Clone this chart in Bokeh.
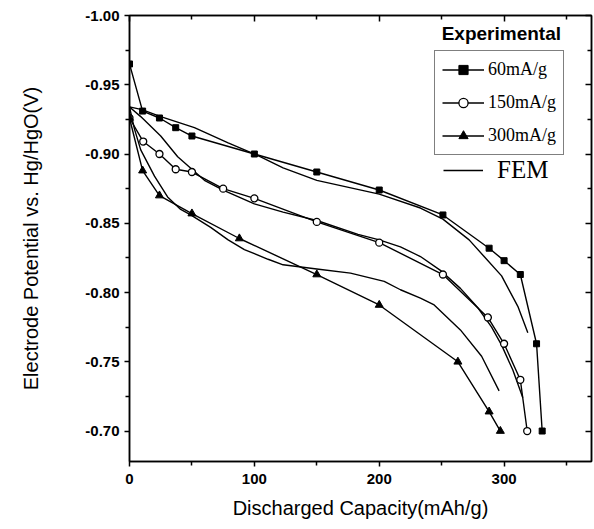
from bokeh.plotting import figure
from bokeh.models import (Range1d, LinearAxis, Legend, LegendItem, Label,
                          FixedTicker, NumeralTickFormatter, CustomJSTickFormatter)
from bokeh.embed import file_html
from bokeh.resources import INLINE

# Experimental data (discharged capacity mAh/g, potential V vs Hg/HgO)
cap_60 = [0, 10.5, 24, 37, 50, 100, 150, 200, 251, 288, 300, 313, 326, 330.5]
pot_60 = [-0.965, -0.931, -0.926, -0.919, -0.913, -0.900, -0.887, -0.874,
          -0.856, -0.832, -0.823, -0.813, -0.763, -0.700]

cap_150 = [0, 11, 24, 37, 50, 75, 100, 150, 200, 251, 287, 300, 313, 318.5]
pot_150 = [-0.926, -0.909, -0.900, -0.889, -0.887, -0.875, -0.868, -0.851,
           -0.836, -0.813, -0.782, -0.763, -0.737, -0.700]

cap_300 = [0, 10.5, 24, 50, 88, 150, 200, 263, 288, 297]
pot_300 = [-0.926, -0.888, -0.870, -0.857, -0.839, -0.813, -0.791, -0.750,
           -0.714, -0.700]

# FEM simulations
fem60_cap = [0, 10, 25, 52, 79, 105, 123, 150, 200, 233, 251, 272, 284, 298, 311, 319]
fem60_pot = [-0.934, -0.932, -0.927, -0.919, -0.908, -0.898, -0.890, -0.881,
             -0.871, -0.861, -0.853, -0.838, -0.826, -0.812, -0.790, -0.771]

fem150_cap = [0, 9, 25, 38.6, 60, 75, 100, 123, 150, 183, 200, 217, 233, 249,
              265, 279, 290, 298, 307, 315]
fem150_pot = [-0.934, -0.927, -0.913, -0.898, -0.881, -0.874, -0.864, -0.858,
              -0.852, -0.842, -0.838, -0.833, -0.826, -0.816, -0.803, -0.789,
              -0.775, -0.762, -0.744, -0.724]

fem300_cap = [0, 4, 9, 20, 30.5, 41, 49, 65, 79, 92, 111, 123, 150, 177, 204,
              217, 233, 244, 265, 282, 296]
fem300_pot = [-0.934, -0.918, -0.903, -0.884, -0.869, -0.860, -0.856, -0.847,
              -0.838, -0.831, -0.824, -0.820, -0.817, -0.814, -0.808, -0.802,
              -0.796, -0.791, -0.773, -0.754, -0.729]

x_major = [0, 100, 200, 300]
x_minor = [50, 150, 250, 350]
y_major = [-1.00, -0.95, -0.90, -0.85, -0.80, -0.75, -0.70]
y_minor = [-0.975, -0.925, -0.875, -0.825, -0.775, -0.725]

legend_labels = ["60mA/g", "150mA/g", "300mA/g"]

SANS = "Liberation Sans"
SERIF = "Liberation Serif"

p = figure(width=594, height=527, output_backend="svg", toolbar_location=None,
           x_range=Range1d(0, 370), y_range=Range1d(-0.678, -1.0),
           min_border_left=129, min_border_top=15, min_border_bottom=66,
           min_border_right=3)
p.xgrid.visible = False
p.ygrid.visible = False
p.outline_line_color = "black"
p.outline_line_width = 1.5
p.background_fill_color = "white"
p.border_fill_color = "white"

xt = FixedTicker(ticks=x_major, minor_ticks=x_minor)
yt = FixedTicker(ticks=y_major, minor_ticks=y_minor)

for ax in p.xaxis:
    ax.ticker = xt
for ax in p.yaxis:
    ax.ticker = yt
    ax.formatter = NumeralTickFormatter(format="0.00")

for ax in list(p.xaxis) + list(p.yaxis):
    ax.axis_line_width = 1.5
    ax.major_tick_line_width = 1.5
    ax.minor_tick_line_width = 1.5
    ax.major_tick_out = 5
    ax.major_tick_in = 0
    ax.minor_tick_out = 4
    ax.minor_tick_in = 0
    ax.major_label_text_font = SANS
    ax.major_label_text_font_size = "15px"
    ax.major_label_text_font_style = "bold"
    ax.major_label_text_color = "black"
    ax.axis_label_text_font = SANS
    ax.axis_label_text_font_size = "20px"
    ax.axis_label_text_font_style = "normal"
    ax.axis_label_text_color = "black"

p.xaxis.axis_label = "Discharged Capacity(mAh/g)"
p.yaxis.axis_label = "Electrode Potential vs. Hg/HgO(V)"
p.xaxis.major_label_standoff = 7
p.xaxis.axis_label_standoff = 10
p.yaxis.major_label_standoff = 5
p.yaxis.axis_label_standoff = 40

blank = CustomJSTickFormatter(code="return ''")
top = LinearAxis(ticker=xt, formatter=blank, major_label_text_font_size="1px",
                 major_label_standoff=0, major_tick_in=6, major_tick_out=0,
                 minor_tick_in=4, minor_tick_out=0, axis_line_width=1.5,
                 major_tick_line_width=1.5, minor_tick_line_width=1.5)
right = LinearAxis(ticker=yt, formatter=blank, major_label_text_font_size="1px",
                   major_label_standoff=0, major_tick_in=6, major_tick_out=0,
                   minor_tick_in=4, minor_tick_out=0, axis_line_width=1.5,
                   major_tick_line_width=1.5, minor_tick_line_width=1.5)
p.add_layout(top, "above")
p.add_layout(right, "right")

# FEM curves
f1 = p.line(fem60_cap, fem60_pot, line_color="black", line_width=1.4)
p.line(fem150_cap, fem150_pot, line_color="black", line_width=1.4)
p.line(fem300_cap, fem300_pot, line_color="black", line_width=1.4)

# Experimental
l60 = p.line(cap_60, pot_60, line_color="black", line_width=1.4)
m60 = p.scatter(cap_60, pot_60, marker="square", size=6, fill_color="black",
                line_color="black")
l150 = p.line(cap_150, pot_150, line_color="black", line_width=1.4)
m150 = p.scatter(cap_150, pot_150, marker="circle", size=7, fill_color="white",
                 line_color="black", line_width=1.3)
l300 = p.line(cap_300, pot_300, line_color="black", line_width=1.4)
m300 = p.scatter(cap_300, pot_300, marker="triangle", size=8, fill_color="black",
                 line_color="black")

leg = Legend(items=[LegendItem(label=legend_labels[0], renderers=[l60, m60]),
                    LegendItem(label=legend_labels[1], renderers=[l150, m150]),
                    LegendItem(label=legend_labels[2], renderers=[l300, m300])],
             location=(305, 306), orientation="vertical",
             glyph_width=42, glyph_height=23, spacing=10, padding=7,
             label_standoff=4, label_text_font=SERIF, label_text_font_size="18px",
             label_text_color="black", border_line_color="black",
             border_line_width=1.5, background_fill_color="white",
             background_fill_alpha=1.0, margin=0)
p.add_layout(leg, "center")

leg2 = Legend(items=[LegendItem(label="FEM", renderers=[f1])],
              location=(314, 277), glyph_width=40, glyph_height=26, padding=0,
              label_standoff=14, label_text_font=SERIF, label_text_font_size="25px",
              label_text_color="black", border_line_color=None,
              background_fill_alpha=0, margin=0)
p.add_layout(leg2, "center")

title = Label(x=250, y=-0.987, text="Experimental", text_font=SANS,
              text_font_size="19px", text_font_style="bold",
              text_baseline="middle", text_color="black")
p.add_layout(title)

open("out.html", "w").write(file_html(p, INLINE))
